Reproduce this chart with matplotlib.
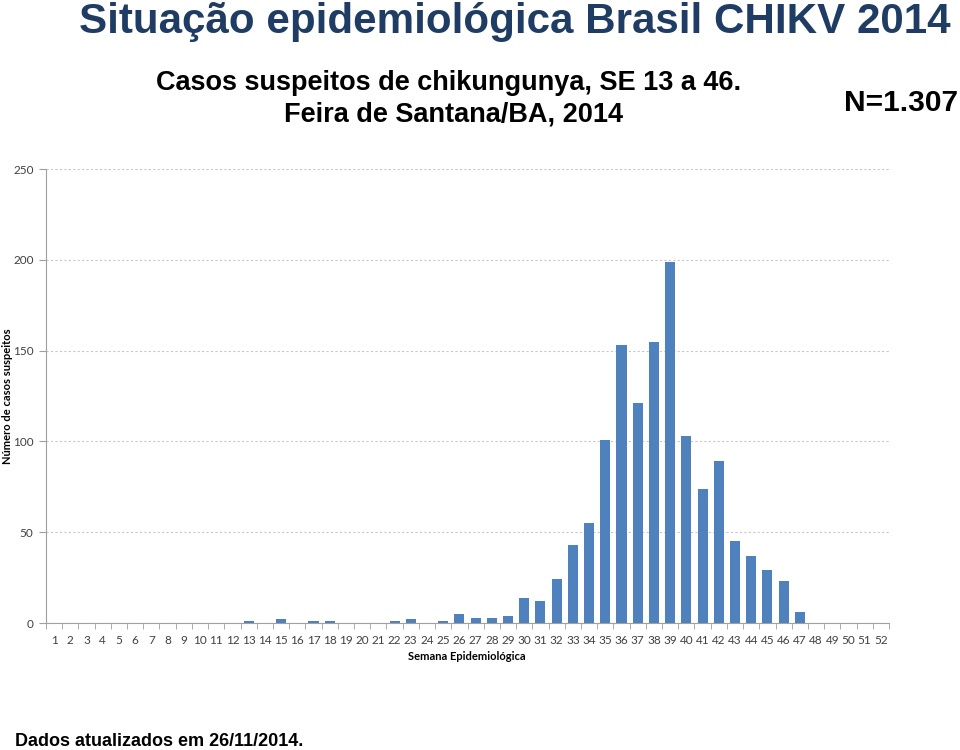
import matplotlib
matplotlib.use("Agg")
import matplotlib.pyplot as plt
import numpy as np

weeks = list(range(1, 53))
cases = [0, 0, 0, 0, 0, 0, 0, 0, 0, 0, 0, 0,
         1, 0, 2, 0, 1, 1, 0, 0, 0, 1, 2, 0, 1,
         5, 3, 3, 4, 14, 12, 24, 43, 55, 101, 153, 121, 155, 199,
         103, 74, 89, 45, 37, 29, 23, 6,
         0, 0, 0, 0, 0]
yticks = [0, 50, 100, 150, 200, 250]

title = "Situação epidemiológica Brasil CHIKV 2014"
subtitle1 = "Casos suspeitos de chikungunya, SE 13 a 46."
subtitle2 = "Feira de Santana/BA, 2014"
ntext = "N=1.307"
footer = "Dados atualizados em 26/11/2014."
ylabel = "Número de casos suspeitos"
xlabel = "Semana Epidemiológica"

fig = plt.figure(figsize=(9.6, 7.5), dpi=100)
ax = fig.add_axes([46/960, 127/750, 843/960, 454/750])

x = np.arange(len(weeks))
ax.bar(x, cases, width=0.62, color="#4F81BD", zorder=3)
ax.set_xlim(-0.5, len(weeks) - 0.5)
ax.set_ylim(0, 250)
ax.set_yticks(yticks)
ax.set_yticklabels([str(t) for t in yticks], fontsize=8.5, color="#404040", family="Lato")
ax.set_xticks(x)
ax.set_xticklabels([str(w) for w in weeks], fontsize=8.5, color="#404040", family="Lato")
ax.tick_params(axis="x", length=0, pad=9)
ax.tick_params(axis="y", length=5, color="#A0A0A0", pad=4)
ax.set_xticks(np.arange(-0.5, len(weeks)), minor=True)
ax.tick_params(axis="x", which="minor", length=4, color="#A0A0A0")
ax.yaxis.grid(True, linestyle=(0, (2, 2)), color="#C8C8C8", linewidth=0.8, zorder=0)
for s in ["top", "right"]:
    ax.spines[s].set_visible(False)
for s in ["left", "bottom"]:
    ax.spines[s].set_color("#A0A0A0")
    ax.spines[s].set_linewidth(0.8)

fig.text(8/960, 1 - 396/750, ylabel, rotation=90, ha="center", va="center",
         fontsize=8, fontweight="bold", family="Lato")
fig.text(467/960, 1 - 656/750, xlabel, ha="center", va="center",
         fontsize=8, fontweight="bold", family="Lato")

fig.text(515/960, 1 - 22/750, title, ha="center", va="center", fontsize=30.3,
         fontweight="bold", color="#1F3D64", family="Liberation Sans")
fig.text(449/960, 1 - 83/750, subtitle1, ha="center", va="center", fontsize=19.5,
         fontweight="bold", color="black", family="Liberation Sans")
fig.text(453/960, 1 - 115/750, subtitle2, ha="center", va="center", fontsize=19.5,
         fontweight="bold", color="black", family="Liberation Sans")
fig.text(958/960, 1 - 103/750, ntext, ha="right", va="center", fontsize=21.5,
         fontweight="bold", color="black", family="Liberation Sans")
fig.text(15/960, 1 - 741/750, footer, ha="left", va="center", fontsize=13,
         fontweight="bold", color="black", family="Liberation Sans")

fig.savefig("out.png", dpi=100)
